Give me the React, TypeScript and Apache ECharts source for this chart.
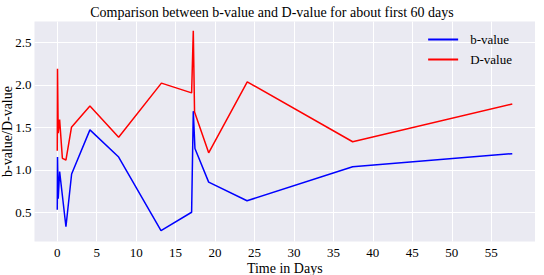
import React, { useEffect, useRef } from "react";
import * as echarts from "echarts";

const bDays = [0, 0.03, 0.12, 0.3, 1.1, 1.82, 4.14, 7.78, 13.15, 17.03, 17.24, 17.45, 19.19, 24.05, 37.44, 57.67];
const bValues = [0.53, 1.15, 0.66, 0.98, 0.33, 0.95, 1.47, 1.15, 0.285, 0.5, 1.69, 1.25, 0.855, 0.635, 1.035, 1.19];

const dDays = [0, 0.03, 0.12, 0.3, 0.65, 1.1, 1.8, 4.14, 7.78, 13.2, 17.03, 17.24, 17.4, 19.19, 24.08, 37.44, 57.67];
const dValues = [1.225, 2.19, 1.43, 1.59, 1.135, 1.115, 1.5, 1.75, 1.382, 2.02, 1.905, 2.635, 1.68, 1.2, 2.035, 1.33, 1.775];

const xTicks = [0, 5, 10, 15, 20, 25, 30, 35, 40, 45, 50, 55];
const yTicks = [0.5, 1.0, 1.5, 2.0, 2.5];

const FONT = "Liberation Serif";

export default function App() {
  const ref = useRef<HTMLDivElement>(null);
  useEffect(() => {
    const chart = echarts.init(ref.current!, null, { renderer: "svg" });
    chart.setOption({
      animation: false,
      backgroundColor: "#ffffff",
      title: {
        text: "Comparison between b-value and D-value for about first 60 days",
        left: "center",
        top: 0,
        textStyle: { fontFamily: FONT, fontSize: 14, fontWeight: "normal", color: "#000" },
      },
      legend: {
        orient: "vertical",
        right: 32,
        top: 32,
        padding: 0,
        icon: "rect",
        itemWidth: 30,
        itemHeight: 2,
        itemGap: 5,
        data: ["b-value", "D-value"],
        textStyle: { fontFamily: FONT, fontSize: 13, color: "#000", padding: [0, 0, 0, 7], lineHeight: 15 },
      },
      grid: {
        left: 34.5,
        right: 9,
        top: 21.5,
        bottom: 33.5,
        outerBoundsMode: "none",
        containLabel: false,
        show: true,
        backgroundColor: "#EAEAF2",
        borderWidth: 0,
      },
      xAxis: {
        type: "value",
        min: -2.885,
        max: 60.55,
        name: "Time in Days",
        nameLocation: "middle",
        nameGap: 20,
        nameMoveOverlap: false,
        nameTextStyle: { fontFamily: FONT, fontSize: 14, color: "#000" },
        axisLine: { show: false },
        axisTick: { show: false, customValues: xTicks },
        axisLabel: { customValues: xTicks, fontFamily: FONT, fontSize: 13, color: "#000", margin: 4 },
        splitLine: { show: true, lineStyle: { color: "#ffffff", width: 1 } },
      },
      yAxis: {
        type: "value",
        min: 0.156,
        max: 2.745,
        name: "b-value/D-value",
        nameLocation: "middle",
        nameGap: 20,
        nameMoveOverlap: false,
        nameTextStyle: { fontFamily: FONT, fontSize: 14, color: "#000" },
        axisLine: { show: false },
        axisTick: { show: false, customValues: yTicks },
        axisLabel: { customValues: yTicks, fontFamily: FONT, fontSize: 13, color: "#000", margin: 3, formatter: (v: number) => v.toFixed(1) },
        splitLine: { show: true, lineStyle: { color: "#ffffff", width: 1 } },
      },
      series: [
        {
          name: "b-value",
          type: "line",
          symbol: "none",
          data: bDays.map((d, i) => [d, bValues[i]]),
          lineStyle: { color: "#0000ff", width: 1.5 },
          itemStyle: { color: "#0000ff" },
        },
        {
          name: "D-value",
          type: "line",
          symbol: "none",
          data: dDays.map((d, i) => [d, dValues[i]]),
          lineStyle: { color: "#ff0000", width: 1.5 },
          itemStyle: { color: "#ff0000" },
        },
      ],
    });
    return () => chart.dispose();
  }, []);
  return <div ref={ref} style={{ width: 544, height: 275, position: "absolute", left: 0, top: 0 }} />;
}
